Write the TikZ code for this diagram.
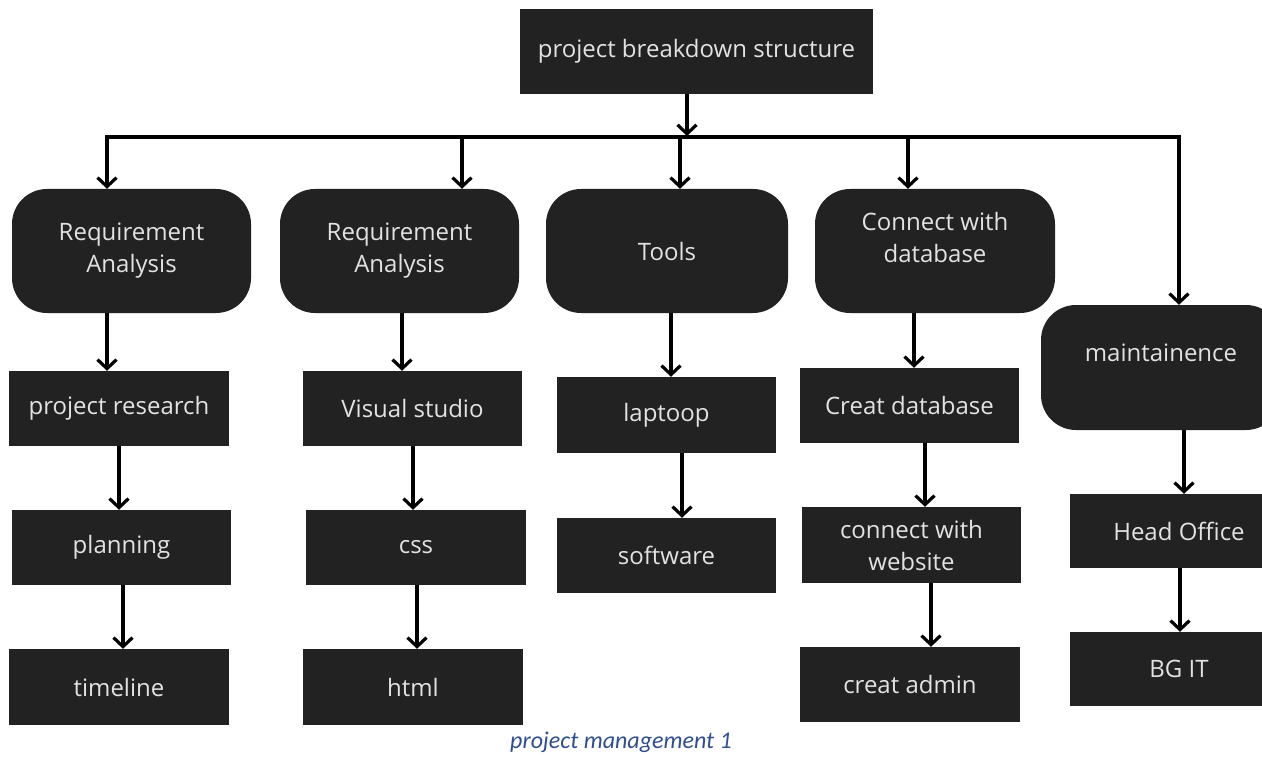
\documentclass[tikz,border=0pt]{standalone}
\usepackage{fontspec}
\setmainfont{Open Sans}
\newfontfamily\capfont{Carlito}
\usetikzlibrary{arrows.meta}
\definecolor{boxfill}{HTML}{222222}
\definecolor{boxtext}{HTML}{E2E2E2}
\definecolor{capblue}{HTML}{2F4F8F}
\begin{document}
\begin{tikzpicture}[x=1pt,y=-1pt,
  box/.style={fill=boxfill, text=boxtext, inner sep=0pt, align=center,
    font=\fontsize{24}{32}\selectfont},
  sq/.style={box, rectangle},
  rnd/.style={box, rectangle, rounded corners=35pt},
  lbl/.style={text=boxtext, inner sep=0pt, align=center, font=\fontsize{24}{32}\selectfont},
  arr/.style={line width=3.2pt, -{Straight Barb[length=9pt,width=19pt]}},
  bus/.style={line width=3.2pt, line cap=rect}
]
\useasboundingbox (0,0) rectangle (1262,757);
\fill[white] (0,0) rectangle (1262,757);

% top
\node[sq, minimum width=353pt, minimum height=85pt] (top) at (696.5,51.5) {project breakdown structure};

% level 1 (rounded)
\node[rnd, minimum width=239pt, minimum height=124pt] (r1) at (131.5,251) {Requirement\\Analysis};
\node[rnd, minimum width=239pt, minimum height=124pt] (r2) at (399.5,251) {Requirement\\Analysis};
\node[rnd, minimum width=242pt, minimum height=124pt] (r3) at (667,251) {Tools};
\node[rnd, minimum width=240pt, minimum height=124pt] (r4) at (935,251) {};
\node[lbl] (r4t) at ([yshift=13.5pt]r4.center) {Connect with\\database};
\node[rnd, minimum width=240pt, minimum height=125pt] (r5) at (1161,367.5) {};
\node[lbl] (r5t) at ([yshift=14.5pt]r5.center) {maintainence};

% level 2
\node[sq, minimum width=220pt, minimum height=75pt] (s1) at (119,408.5) {project research};
\node[sq, minimum width=219pt, minimum height=75pt] (s2) at (412.5,408.5) {Visual studio};
\node[sq, minimum width=219pt, minimum height=76pt] (s3) at (666.5,415) {laptoop};
\node[sq, minimum width=219pt, minimum height=75pt] (s4) at (909.5,405.5) {Creat database};
\node[sq, minimum width=218pt, minimum height=74pt] (s5) at (1179,531) {Head Office};

% level 3
\node[sq, minimum width=219pt, minimum height=75pt] (t1) at (121.5,547.5) {planning};
\node[sq, minimum width=220pt, minimum height=75pt] (t2) at (416,547.5) {css};
\node[sq, minimum width=219pt, minimum height=75pt] (t3) at (666.5,555.5) {software};
\node[sq, minimum width=219pt, minimum height=76pt] (t4) at (911.5,545) {connect with\\website};
\node[sq, minimum width=218pt, minimum height=74pt] (t5) at (1179,669) {BG IT};

% level 4
\node[sq, minimum width=220pt, minimum height=76pt] (u1) at (119,687) {timeline};
\node[sq, minimum width=220pt, minimum height=76pt] (u2) at (413,687) {html};
\node[sq, minimum width=220pt, minimum height=75pt] (u4) at (910,684.5) {creat admin};

% caption
\node[font=\capfont\itshape\fontsize{24}{28}\selectfont, text=capblue, inner sep=0pt] (cap) at (621,742) {project management 1};

% bus
\coordinate (d1) at (107,137);
\coordinate (d2) at (462,137);
\coordinate (d3) at (680,137);
\coordinate (d4) at (908,137);
\coordinate (d5) at (1179,137);
\coordinate (bj) at (687,136);
\draw[bus] (d1) -- (d5);
\draw[arr] (top.south -| bj) -- (bj);
\draw[arr] (d1) -- (r1.north -| d1);
\draw[arr] (d2) -- (r2.north -| d2);
\draw[arr] (d3) -- (r3.north -| d3);
\draw[arr] (d4) -- (r4.north -| d4);
\draw[arr] (d5) -- (r5.north -| d5);

% chains
\draw[arr] (r1.south -| 107,0) -- (s1.north -| 107,0);
\draw[arr] (s1.south -| 119,0) -- (t1.north -| 119,0);
\draw[arr] (t1.south -| 123,0) -- (u1.north -| 123,0);
\draw[arr] (r2.south -| 402,0) -- (s2.north -| 402,0);
\draw[arr] (s2.south -| 413,0) -- (t2.north -| 413,0);
\draw[arr] (t2.south -| 417,0) -- (u2.north -| 417,0);
\draw[arr] (r3.south -| 671,0) -- (s3.north -| 671,0);
\draw[arr] (s3.south -| 682,0) -- (t3.north -| 682,0);
\draw[arr] (r4.south -| 914,0) -- (s4.north -| 914,0);
\draw[arr] (s4.south -| 925,0) -- (t4.north -| 925,0);
\draw[arr] (t4.south -| 931,0) -- (u4.north -| 931,0);
\draw[arr] (r5.south -| 1184,0) -- (s5.north -| 1184,0);
\draw[arr] (s5.south -| 1180,0) -- (t5.north -| 1180,0);
\end{tikzpicture}
\end{document}
